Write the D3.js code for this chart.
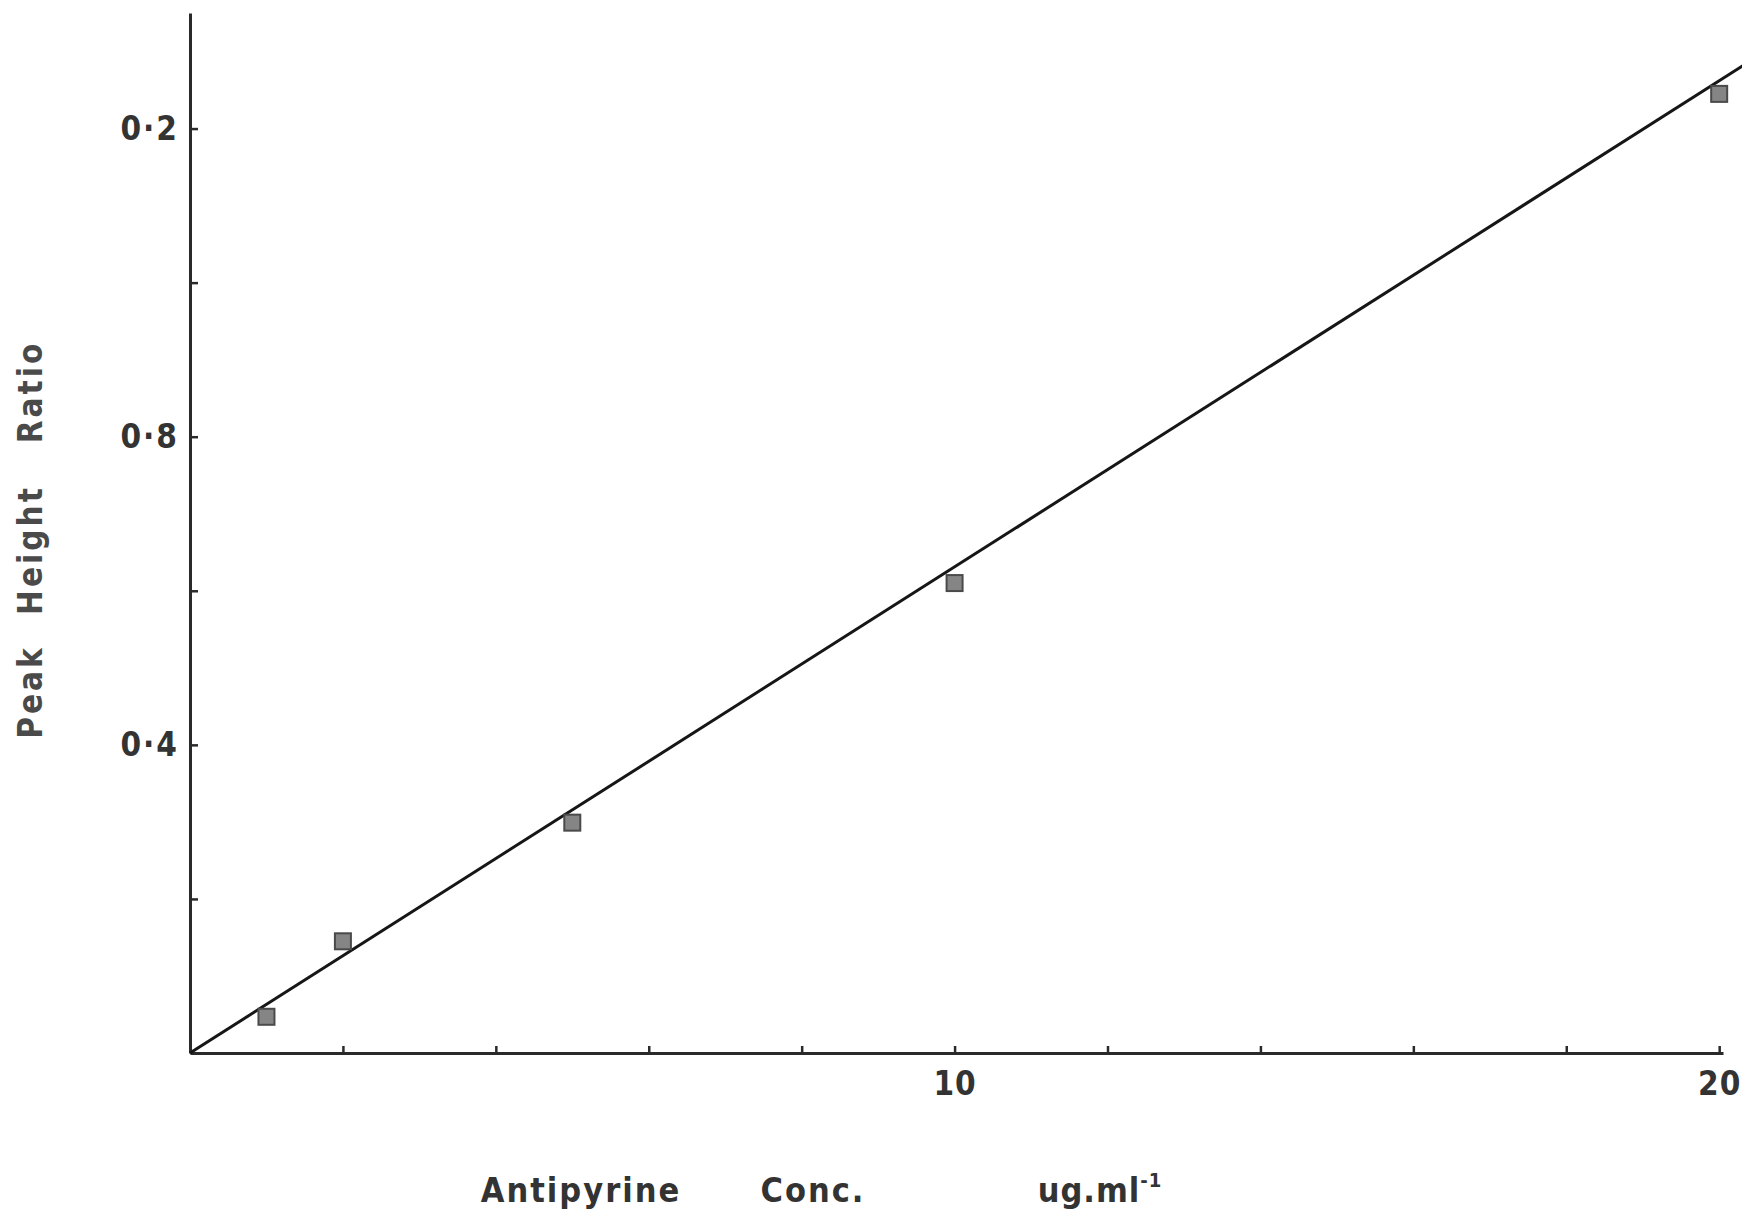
<!DOCTYPE html>
<html>
<head>
<meta charset="utf-8">
<script src="https://cdn.jsdelivr.net/npm/d3@7"></script>
<style>
  html, body { margin: 0; padding: 0; background: #fff; }
  svg { display: block; }
  .tick text, .lbl { font-family: "DejaVu Sans Condensed", "DejaVu Sans", sans-serif; font-weight: bold; font-stretch: condensed; }
</style>
</head>
<body>
<svg id="chart" width="1742" height="1214"></svg>
<script>
// Calibration: antipyrine concentration vs peak height ratio
const concentration = [1, 2, 5, 10, 20];            // ug/ml
const peakRatio     = [0.047, 0.145, 0.299, 0.610, 1.245];
const fitSlope      = 0.0631;                        // least-squares line through origin
const fitRange      = [0, 20.35];

const xTickValues = [2, 4, 6, 8, 10, 12, 14, 16, 18, 20];
const xTickLabels = { 10: "10", 20: "20" };
const yTickValues = [0.2, 0.4, 0.6, 0.8, 1.0, 1.2];
const yTickLabels = { 0.4: "0·4", 0.8: "0·8", 1.2: "0·2" };

const svg = d3.select("#chart");
const ink = "#2a2a2a";

const x = d3.scaleLinear().domain([0, 20.05]).range([190, 1723]);
const y = d3.scaleLinear().domain([0, 1.35]).range([1053, 13]);

// x axis, ticks pointing into the plot
const gx = svg.append("g")
  .attr("transform", `translate(0,${y(0)})`)
  .call(d3.axisBottom(x)
    .tickValues(xTickValues)
    .tickSizeInner(-7).tickSizeOuter(0)
    .tickPadding(24)
    .tickFormat(d => xTickLabels[d] || ""));
gx.select(".domain").attr("stroke", ink).attr("stroke-width", 3);
gx.selectAll(".tick line").attr("stroke", ink).attr("stroke-width", 2.5);
gx.selectAll(".tick text").attr("fill", "#333").attr("font-size", 33)
  .attr("letter-spacing", 1).attr("dy", "0.55em");

// y axis, ticks pointing into the plot
const gy = svg.append("g")
  .attr("transform", `translate(${x(0)},0)`)
  .call(d3.axisLeft(y)
    .tickValues(yTickValues)
    .tickSizeInner(-8).tickSizeOuter(0)
    .tickPadding(11)
    .tickFormat(d => yTickLabels[d] || ""));
gy.select(".domain").attr("stroke", ink).attr("stroke-width", 3);
gy.selectAll(".tick line").attr("stroke", ink).attr("stroke-width", 2.5);
gy.selectAll(".tick text").attr("fill", "#333").attr("font-size", 33)
  .attr("letter-spacing", 2);

// fitted calibration line
svg.append("path")
  .datum(fitRange)
  .attr("fill", "none")
  .attr("stroke", "#161616")
  .attr("stroke-width", 3)
  .attr("d", d3.line().x(d => x(d)).y(d => y(d * fitSlope)));

// measured points as shaded squares
const side = 16;
svg.append("g").selectAll("rect")
  .data(concentration.map((c, i) => ({ c, r: peakRatio[i] })))
  .join("rect")
  .attr("x", d => x(d.c) - side / 2)
  .attr("y", d => y(d.r) - side / 2)
  .attr("width", side).attr("height", side)
  .attr("fill", "#858585")
  .attr("stroke", "#4a4a4a")
  .attr("stroke-width", 2);

// y axis title, words spread along the axis
const yTitle = [["Peak", 692], ["Height", 550], ["Ratio", 392]];
svg.append("g").selectAll("text")
  .data(yTitle)
  .join("text")
  .attr("class", "lbl")
  .attr("transform", d => `translate(42,${d[1]}) rotate(-90)`)
  .attr("text-anchor", "middle")
  .attr("font-size", 33)
  .attr("letter-spacing", 3)
  .attr("fill", "#4a4a4a")
  .text(d => d[0]);

// x axis title
const xTitle = [["Antipyrine", 581], ["Conc.", 813]];
svg.append("g").selectAll("text")
  .data(xTitle)
  .join("text")
  .attr("class", "lbl")
  .attr("x", d => d[1]).attr("y", 1202)
  .attr("text-anchor", "middle")
  .attr("font-size", 34)
  .attr("letter-spacing", 2)
  .attr("fill", "#333")
  .text(d => d[0]);

const unit = svg.append("text")
  .attr("class", "lbl")
  .attr("x", 1100).attr("y", 1202)
  .attr("text-anchor", "middle")
  .attr("font-size", 34)
  .attr("letter-spacing", 1)
  .attr("fill", "#333");
unit.append("tspan").text("ug.ml");
unit.append("tspan").attr("font-size", 20).attr("dy", -15).text("-1");
</script>
</body>
</html>
